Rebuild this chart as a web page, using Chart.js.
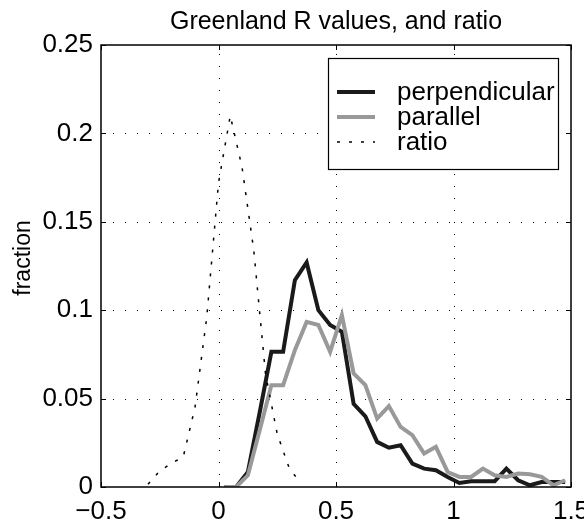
<!DOCTYPE html>
<html>
<head>
<meta charset="utf-8">
<title>Greenland R values, and ratio</title>
<script src="https://cdn.jsdelivr.net/npm/chart.js@4/dist/chart.umd.min.js"></script>
<style>
body{margin:0;background:#fff;}
</style>
</head>
<body>
<canvas id="myChart" width="584" height="527"></canvas>
<script>
'use strict';

// histogram bin centres for the two R series
const binCenters=[0.025,0.075,0.125,0.175,0.225,0.275,0.325,0.375,0.425,0.475,
  0.525,0.575,0.625,0.675,0.725,0.775,0.825,0.875,0.925,0.975,
  1.025,1.075,1.125,1.175,1.225,1.275,1.325,1.375,1.425,1.475];
const perpendicular=[0,0,0.0085,0.042,0.0765,0.0765,0.117,0.127,0.100,0.0916,
  0.0878,0.047,0.040,0.0255,0.0222,0.0236,0.0132,0.0104,0.0095,0.0057,
  0.0023,0.0032,0.0032,0.0032,0.0104,0.0038,0.001,0.0028,0.0028,0.0028];
const parallel=[0,0,0.0066,0.032,0.0576,0.0576,0.0774,0.0934,0.0916,0.0765,
  0.0972,0.0642,0.0576,0.0387,0.0458,0.034,0.0293,0.0189,0.0227,0.0085,
  0.0057,0.0057,0.0104,0.0066,0.0057,0.0076,0.0072,0.0057,0.001,0.0038];

// ratio series
const ratioBins=[-0.3,-0.25,-0.2,-0.15,-0.1,-0.05,0,0.05,0.1,0.15,0.2,0.25,0.3,0.35];
const ratio=[0.0015,0.009,0.0135,0.017,0.045,0.096,0.172,0.21,0.181,0.134,0.064,0.030,0.011,0.002];

const xTickValues=[-0.5,0,0.5,1,1.5];
const xTickLabels=['\u22120.5','0','0.5','1','1.5'];
const yTickValues=[0,0.05,0.1,0.15,0.2,0.25];
const yTickLabels=['0','0.05','0.1','0.15','0.2','0.25'];

const titleText='Greenland R values, and ratio';
const yTitleText='fraction';
const seriesNames=['perpendicular','parallel','ratio'];

const fontFamily='"Liberation Sans", Arial, Helvetica, sans-serif';
const blackLine='#1a1a1a';
const grayLine='#999999';
const ratioDash=[3,9];


function toPoints(xs,ys){
  return xs.map(function(x,i){ return {x:x,y:ys[i]}; });
}


// matlab-like frame: dotted grid, box, inward ticks, title, legend
const matlabLook={
  id:'matlabLook',
  beforeDatasetsDraw(chart){
    const ctx=chart.ctx;
    const a=chart.chartArea;
    const xs=chart.scales.x;
    const ys=chart.scales.y;
    ctx.save();
    ctx.strokeStyle='#000';
    ctx.lineWidth=1;
    ctx.setLineDash([1,11]);
    for(let i=1;i<xTickValues.length-1;i++){
      let px=Math.round(xs.getPixelForValue(xTickValues[i]))+0.5;
      ctx.beginPath();
      ctx.moveTo(px,a.bottom);
      ctx.lineTo(px,a.top);
      ctx.stroke();
    }
    for(let i=1;i<yTickValues.length-1;i++){
      let py=Math.round(ys.getPixelForValue(yTickValues[i]))+0.5;
      ctx.beginPath();
      ctx.moveTo(a.left,py);
      ctx.lineTo(a.right,py);
      ctx.stroke();
    }
    ctx.restore();
  },
  afterDatasetsDraw(chart){
    const ctx=chart.ctx;
    const a=chart.chartArea;
    const xs=chart.scales.x;
    const ys=chart.scales.y;
    const tick=5;

    ctx.save();
    ctx.strokeStyle='#000';
    ctx.lineWidth=1.5;
    ctx.setLineDash([]);
    ctx.strokeRect(a.left,a.top,a.right-a.left,a.bottom-a.top);

    ctx.lineWidth=1;
    ctx.beginPath();
    for(let i=0;i<xTickValues.length;i++){
      let px=Math.round(xs.getPixelForValue(xTickValues[i]))+0.5;
      ctx.moveTo(px,a.bottom); ctx.lineTo(px,a.bottom-tick);
      ctx.moveTo(px,a.top); ctx.lineTo(px,a.top+tick);
    }
    for(let i=0;i<yTickValues.length;i++){
      let py=Math.round(ys.getPixelForValue(yTickValues[i]))+0.5;
      ctx.moveTo(a.left,py); ctx.lineTo(a.left+tick,py);
      ctx.moveTo(a.right,py); ctx.lineTo(a.right-tick,py);
    }
    ctx.stroke();

    // title
    ctx.fillStyle='#000';
    ctx.font='25px '+fontFamily;
    ctx.textAlign='center';
    ctx.textBaseline='middle';
    ctx.fillText(titleText,(a.left+a.right)/2,22);

    // y axis title
    ctx.save();
    ctx.translate(24,258);
    ctx.rotate(-Math.PI/2);
    ctx.font='23px '+fontFamily;
    ctx.fillText(yTitleText,0,0);
    ctx.restore();

    // legend
    const box={x:328.5,y:58.5,w:230,h:111};
    ctx.fillStyle='#fff';
    ctx.fillRect(box.x,box.y,box.w,box.h);
    ctx.strokeStyle='#000';
    ctx.lineWidth=1.2;
    ctx.strokeRect(box.x,box.y,box.w,box.h);

    const rows=[92,117,142];
    const styles=[
      {color:blackLine,width:4,dash:[]},
      {color:grayLine,width:4,dash:[]},
      {color:'#000',width:1.5,dash:ratioDash}
    ];
    for(let i=0;i<seriesNames.length;i++){
      ctx.beginPath();
      ctx.strokeStyle=styles[i].color;
      ctx.lineWidth=styles[i].width;
      ctx.setLineDash(styles[i].dash);
      ctx.moveTo(337,rows[i]);
      ctx.lineTo(375,rows[i]);
      ctx.stroke();
      ctx.setLineDash([]);
      ctx.fillStyle='#000';
      ctx.font='26px '+fontFamily;
      ctx.textAlign='left';
      ctx.textBaseline='middle';
      ctx.fillText(seriesNames[i],397,rows[i]+1);
    }
    ctx.restore();
  }
};


const ctx=document.getElementById('myChart').getContext('2d');
const chart=new Chart(ctx,{
  type:'line',
  data:{
    datasets:[{
      label:seriesNames[0],
      data:toPoints(binCenters,perpendicular),
      borderColor:blackLine,
      borderWidth:4,
      borderJoinStyle:'miter',
      order:2
    },
    {
      label:seriesNames[1],
      data:toPoints(binCenters,parallel),
      borderColor:grayLine,
      borderWidth:4,
      borderJoinStyle:'miter',
      order:1
    },
    {
      label:seriesNames[2],
      data:toPoints(ratioBins,ratio),
      borderColor:'#000',
      borderWidth:1.5,
      borderDash:ratioDash,
      order:0
    }]
  },
  options:{
    responsive:false,
    animation:false,
    layout:{padding:{top:45,right:13,left:0,bottom:0}},
    elements:{point:{radius:0},line:{tension:0,fill:false}},
    plugins:{legend:{display:false},title:{display:false},tooltip:{enabled:false}},
    scales:{
      x:{
        type:'linear',
        min:-0.5,
        max:1.5,
        afterBuildTicks:function(scale){
          scale.ticks=xTickValues.map(function(v){ return {value:v}; });
        },
        afterFit:function(scale){
          scale.height=40;
          scale.paddingLeft=0;
          scale.paddingRight=0;
        },
        grid:{display:false,drawTicks:false,tickLength:0},
        border:{display:false},
        ticks:{
          autoSkip:false,
          maxRotation:0,
          padding:9,
          color:'#000',
          font:{family:fontFamily,size:26},
          callback:function(value,index){ return xTickLabels[index]; }
        }
      },
      y:{
        type:'linear',
        min:0,
        max:0.25,
        afterBuildTicks:function(scale){
          scale.ticks=yTickValues.map(function(v){ return {value:v}; });
        },
        afterFit:function(scale){
          scale.width=101;
          scale.paddingTop=0;
          scale.paddingBottom=0;
        },
        grid:{display:false,drawTicks:false,tickLength:0},
        border:{display:false},
        ticks:{
          autoSkip:false,
          padding:8,
          color:'#000',
          font:{family:fontFamily,size:26},
          callback:function(value,index){ return yTickLabels[index]; }
        }
      }
    }
  },
  plugins:[matlabLook]
});
</script>
</body>
</html>
